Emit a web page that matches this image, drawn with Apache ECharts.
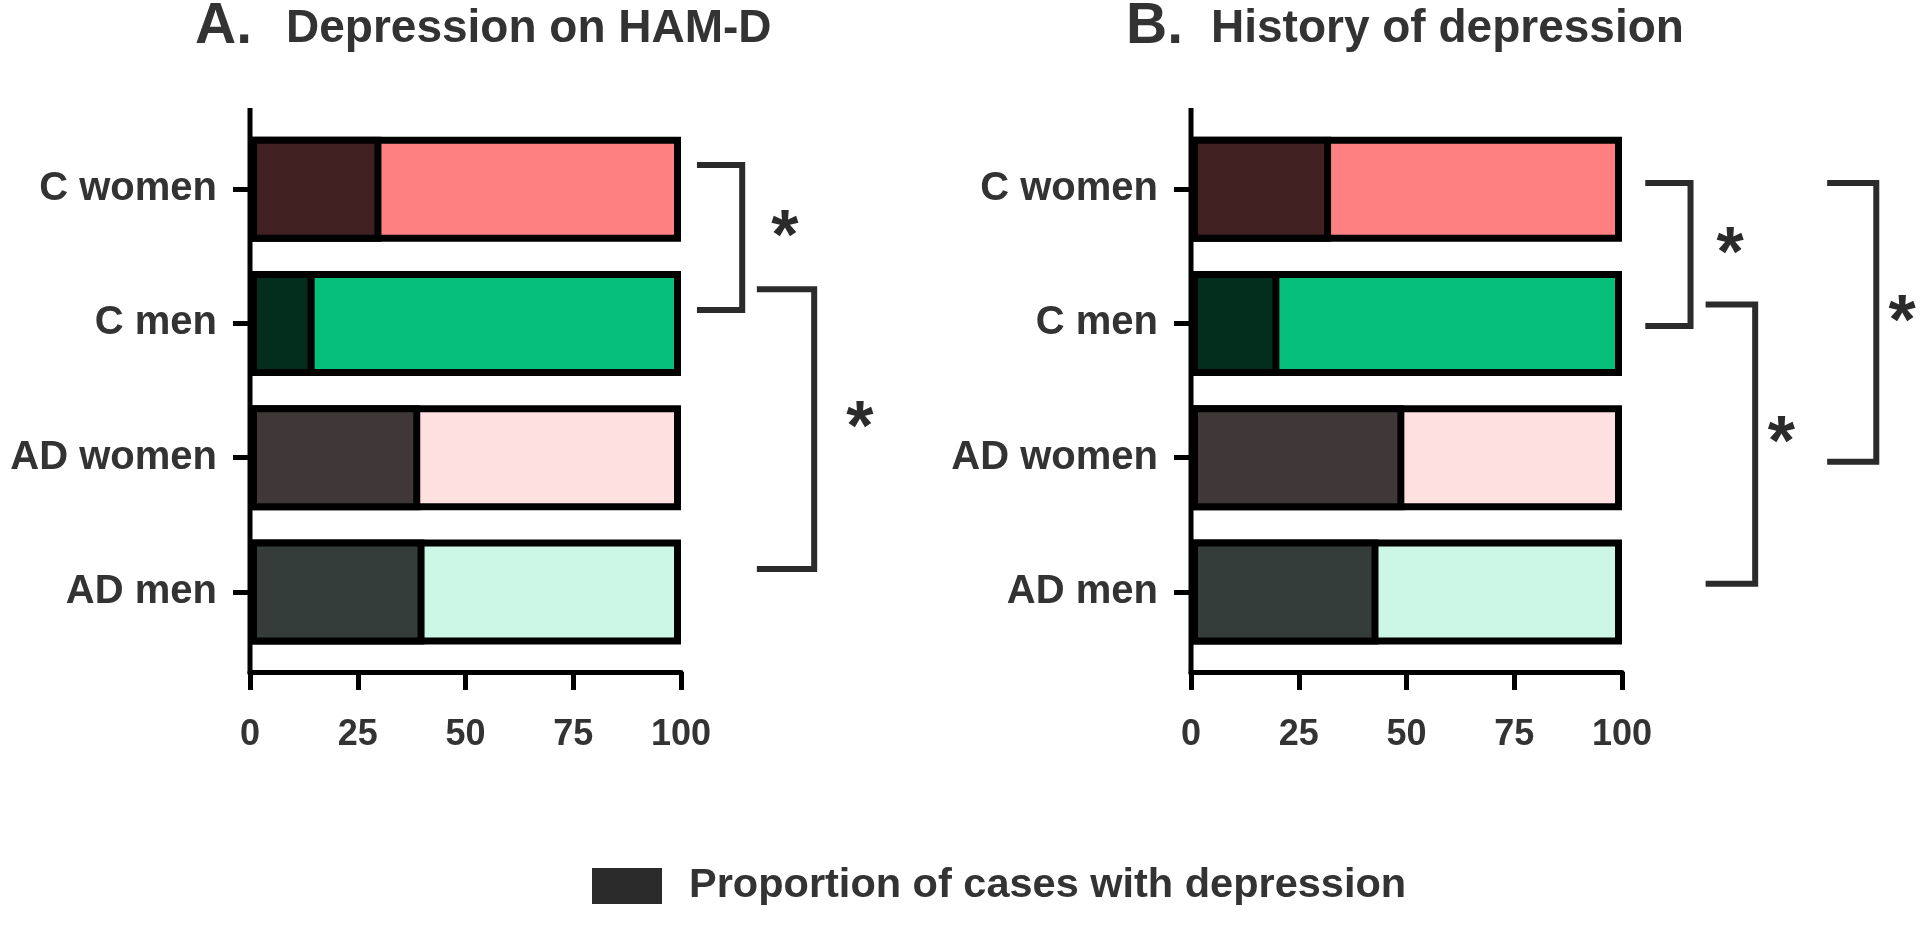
<!DOCTYPE html>
<html><head><meta charset="utf-8">
<script src="https://cdn.jsdelivr.net/npm/echarts@6/dist/echarts.min.js"></script>
<style>html,body{margin:0;padding:0;background:#fff}#c{width:1923px;height:929px}</style>
</head><body><div id="c"></div>
<script>
// ---- data ----
const categories = ['C women', 'C men', 'AD women', 'AD men'];
const xTicks = [0, 25, 50, 75, 100];
const totalPercent = [100, 100, 100, 100];          // whole group = 100 %
const hamdDepressed = [30.5, 15, 39.5, 40.5];       // panel A, % with depression
const historyDepressed = [32.5, 20.5, 49.5, 43.5];  // panel B, % with depression
const panelLetters = ['A.', 'B.'];
const panelTitles = ['Depression on HAM-D', 'History of depression'];
const legendLabel = 'Proportion of cases with depression';
const totalLabel = 'All cases';
const sigLabel = '*';

// ---- styles ----
const darkColors = ['#402020', '#032e1e', '#403838', '#343d39'];
const lightColors = ['#ff8080', '#06bf7a', '#ffe0e0', '#ccf7e6'];
const FONT = "'Liberation Sans', Arial, sans-serif";
const TXT = '#333333';

// significance brackets: panel, top/bottom in category units, x in value units
const brackets = [
  { panel: 0, top: -0.18, bottom: 0.90, x1: 103.7, x2: 114.2, star: 124.1 },
  { panel: 0, top: 0.745, bottom: 2.83, x1: 117.6, x2: 130.9, star: 141.5 },
  { panel: 1, top: -0.045, bottom: 1.02, x1: 105.4, x2: 115.9, star: 125.1 },
  { panel: 1, top: 0.86, bottom: 2.94, x1: 119.4, x2: 130.9, star: 137.0 },
  { panel: 1, top: -0.045, bottom: 2.03, x1: 147.6, x2: 159.0, star: 165.0 }
];

const panelData = [hamdDepressed, historyDepressed];
const gridLeft = [250, 1191];
const gridTop = 122, gridHeight = 537, gridWidth = 431;
const BAR_W = 105;

const chart = echarts.init(document.getElementById('c'));

const grids = [], xAxes = [], yAxes = [], series = [], titles = [];
panelData.forEach((vals, p) => {
  grids.push({ left: gridLeft[p], top: gridTop, width: gridWidth, height: gridHeight });
  xAxes.push({
    gridIndex: p, type: 'value',
    min: xTicks[0], max: xTicks[xTicks.length - 1], interval: xTicks[1] - xTicks[0],
    offset: 13,
    axisLine: { show: true, lineStyle: { color: '#000', width: 5 } },
    axisTick: { show: true, length: 18, lineStyle: { color: '#000', width: 5 } },
    axisLabel: { fontSize: 36, fontWeight: 'bold', color: TXT, fontFamily: FONT, margin: 45 },
    splitLine: { show: false }
  });
  yAxes.push({
    gridIndex: p, type: 'category', data: categories, inverse: true,
    axisLine: { show: false },
    axisTick: { show: true, length: 17, alignWithLabel: true, lineStyle: { color: '#000', width: 5 } },
    axisLabel: { fontSize: 40, fontWeight: 'bold', color: TXT, fontFamily: FONT, margin: 33 },
    splitLine: { show: false }
  });
  series.push({
    type: 'bar', name: totalLabel, xAxisIndex: p, yAxisIndex: p,
    barWidth: BAR_W, barGap: '-100%', z: 2,
    itemStyle: { color: '#ccc', borderColor: '#000', borderWidth: 7 },
    data: totalPercent.map((v, i) => ({ value: v, itemStyle: { color: lightColors[i] } }))
  });
  series.push({
    type: 'bar', name: legendLabel, xAxisIndex: p, yAxisIndex: p,
    barWidth: BAR_W, barGap: '-100%', z: 3,
    itemStyle: { color: '#2b2b2b', borderColor: '#000', borderWidth: 7 },
    data: vals.map((v, i) => ({ value: v, itemStyle: { color: darkColors[i] } }))
  });
});

const letterStyle = { fontSize: 57, fontWeight: 'bold', color: TXT, fontFamily: FONT };
const titleStyle = { fontSize: 46, fontWeight: 'bold', color: TXT, fontFamily: FONT };
titles.push({ text: panelLetters[0], left: 190, top: -6, textStyle: letterStyle });
titles.push({ text: panelTitles[0], left: 281, top: 1, textStyle: titleStyle });
titles.push({ text: panelLetters[1], left: 1121, top: -6, textStyle: letterStyle });
titles.push({ text: panelTitles[1], left: 1206, top: 1, textStyle: titleStyle });

chart.setOption({
  animation: false,
  backgroundColor: '#fff',
  title: titles,
  grid: grids, xAxis: xAxes, yAxis: yAxes, series: series,
  legend: {
    data: [legendLabel], left: 587, top: 860, icon: 'rect',
    itemWidth: 70, itemHeight: 36, selectedMode: false,
    itemStyle: { color: '#2b2b2b', borderWidth: 0 },
    textStyle: { fontSize: 41.5, fontWeight: 'bold', color: TXT, fontFamily: FONT, padding: [0, 0, 0, 22] }
  }
});

// axis line extensions and significance brackets
function draw() {
  const g = [];
  [0, 1].forEach(p => {
    const x0 = chart.convertToPixel({ xAxisIndex: p }, 0);
    g.push({ type: 'line', shape: { x1: x0, y1: 108, x2: x0, y2: gridTop + gridHeight + 15.5 },
      style: { stroke: '#000', lineWidth: 5 }, z: 10 });
  });
  brackets.forEach(b => {
    const y0 = chart.convertToPixel({ yAxisIndex: b.panel }, 0);
    const y1 = chart.convertToPixel({ yAxisIndex: b.panel }, 1);
    const yAt = c => y0 + c * (y1 - y0);
    const px = v => chart.convertToPixel({ xAxisIndex: b.panel }, v);
    const t = yAt(b.top), btm = yAt(b.bottom), xa = px(b.x1), xb = px(b.x2);
    g.push({ type: 'polyline', shape: { points: [[xa, t], [xb, t], [xb, btm], [xa, btm]] },
      style: { stroke: '#2b2b2b', lineWidth: 6, fill: null, lineJoin: 'miter', lineCap: 'butt' }, z: 10 });
    g.push({ type: 'text', x: px(b.star), y: (t + btm) / 2 + 2,
      style: { text: sigLabel, fontSize: 70, fontWeight: 'bold', fill: '#2b2b2b', fontFamily: FONT,
        align: 'center', verticalAlign: 'middle' }, z: 10 });
  });
  chart.setOption({ graphic: g });
}
draw();
</script>
</body></html>
